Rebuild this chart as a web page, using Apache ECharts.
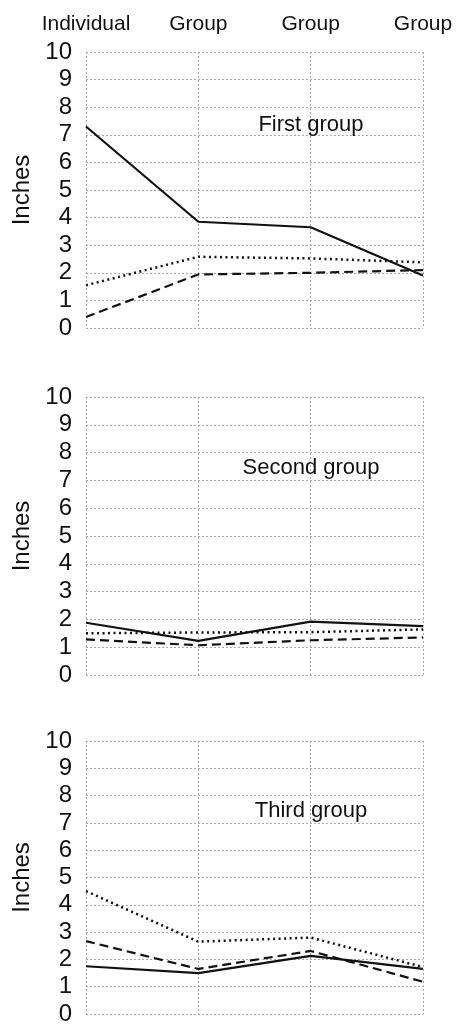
<!DOCTYPE html>
<html>
<head>
<meta charset="utf-8">
<script src="https://cdn.jsdelivr.net/npm/echarts@6/dist/echarts.min.js"></script>
<style>
html,body{margin:0;padding:0;background:#fff;}
#c{width:456px;height:1026px;}
</style>
</head>
<body>
<div id="c"></div>
<script>
const categories = ['Individual', 'Group', 'Group', 'Group'];
const yTicks = [0, 1, 2, 3, 4, 5, 6, 7, 8, 9, 10];
const panelTitles = ['First group', 'Second group', 'Third group'];
const yName = 'Inches';

// panel 1
const p1Solid  = [7.3, 3.85, 3.65, 1.9];
const p1Dotted = [1.55, 2.58, 2.52, 2.38];
const p1Dashed = [0.4, 1.94, 2.0, 2.1];
// panel 2
const p2Solid  = [1.88, 1.23, 1.92, 1.76];
const p2Dotted = [1.5, 1.53, 1.54, 1.64];
const p2Dashed = [1.28, 1.07, 1.25, 1.35];
// panel 3
const p3Solid  = [1.75, 1.5, 2.13, 1.65];
const p3Dotted = [4.5, 2.65, 2.8, 1.72];
const p3Dashed = [2.67, 1.65, 2.31, 1.18];

const panels = [
  {solid: p1Solid, dotted: p1Dotted, dashed: p1Dashed},
  {solid: p2Solid, dotted: p2Dotted, dashed: p2Dashed},
  {solid: p3Solid, dotted: p3Dotted, dashed: p3Dashed}
];

const FONT = '"Liberation Sans Narrow", "Liberation Sans", Arial, sans-serif';
const gridTops = [52, 397, 741];
const gridHeights = [276, 278, 278];
const titleTops = [109, 452, 795];
const gridColor = '#a8a8a8';

const chart = echarts.init(document.getElementById('c'), null, {renderer: 'canvas'});

const grid = [], xAxis = [], yAxis = [], series = [], title = [];
panels.forEach((p, i) => {
  grid.push({left: 86, right: 33, top: gridTops[i], height: gridHeights[i], containLabel: false});
  xAxis.push({
    type: 'category', gridIndex: i, data: categories, boundaryGap: false,
    position: 'top',
    axisLine: {show: false}, axisTick: {show: false},
    axisLabel: {show: i === 0, interval: 0, hideOverlap: false, color: '#111', fontFamily: FONT, fontSize: 21, margin: 17},
    splitLine: {show: true, interval: 0, lineStyle: {color: gridColor, width: 1, type: [2, 2]}}
  });
  yAxis.push({
    type: 'value', gridIndex: i, min: 0, max: 10, interval: 1,
    name: yName, nameLocation: 'middle', nameGap: 47, nameRotate: 90,
    nameTextStyle: {color: '#111', fontFamily: FONT, fontSize: 24},
    axisLine: {show: false}, axisTick: {show: false},
    axisLabel: {color: '#111', fontFamily: FONT, fontSize: 24, margin: 14,
      formatter: v => yTicks.includes(v) ? String(v) : ''},
    splitLine: {show: true, lineStyle: {color: gridColor, width: 1, type: [2, 2]}}
  });
  title.push({
    text: panelTitles[i], left: 306, top: titleTops[i], textAlign: 'center',
    textStyle: {color: '#111', fontFamily: FONT, fontSize: 22, fontWeight: 'normal'}
  });
  const common = {type: 'line', xAxisIndex: i, yAxisIndex: i, symbol: 'none', silent: true, animation: false};
  series.push(Object.assign({}, common, {data: p.dotted, lineStyle: {color: '#111', width: 2.5, type: [2, 3.5]}}));
  series.push(Object.assign({}, common, {data: p.dashed, lineStyle: {color: '#111', width: 2.2, type: [9, 5]}}));
  series.push(Object.assign({}, common, {data: p.solid, lineStyle: {color: '#111', width: 2.2, type: 'solid'}}));
});

chart.setOption({animation: false, backgroundColor: '#fff', title, grid, xAxis, yAxis, series});
</script>
</body>
</html>
